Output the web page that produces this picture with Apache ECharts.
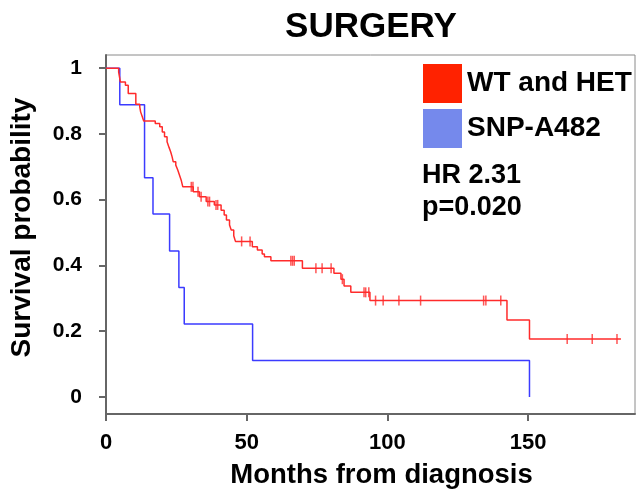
<!DOCTYPE html>
<html>
<head>
<meta charset="utf-8">
<script src="https://cdn.jsdelivr.net/npm/echarts@6/dist/echarts.min.js"></script>
<style>
html,body{margin:0;padding:0;background:#fff;}
#chart{width:637px;height:497px;}
</style>
</head>
<body>
<div id="chart"></div>
<script>
// ---- data ----
const chartTitle = 'SURGERY';
const seriesNames = ['WT and HET', 'SNP-A482'];
const xTicks = [0, 50, 100, 150];
const yTicks = [0, 0.2, 0.4, 0.6, 0.8, 1];

// WT and HET: event times (months) and survival after each event
const redTimes = [0, 4.5, 5.1, 6.9, 7.9, 10.6, 12.0, 12.3, 12.9, 13.4, 17.5, 19.1, 20.0, 20.8, 21.7, 22.4,
  23.0, 23.5, 23.9, 24.8, 25.5, 26.1, 26.7, 27.3, 31.0, 33.2, 35.6, 38.5, 40.9, 42.0, 42.8, 43.9, 44.5,
  45.4, 46.0, 52.0, 53.8, 55.5, 56.3, 58.6, 69.8, 81.0, 83.5, 84.6, 87.0, 93.8, 142.5, 150.5, 183.0];
const redSurv = [1, 0.988, 0.958, 0.948, 0.923, 0.890, 0.882, 0.867, 0.852, 0.839, 0.832, 0.822, 0.806, 0.791, 0.776, 0.759,
  0.745, 0.730, 0.715, 0.705, 0.690, 0.675, 0.660, 0.639, 0.624, 0.609, 0.594, 0.584, 0.568, 0.553, 0.538, 0.523, 0.508,
  0.490, 0.473, 0.457, 0.447, 0.435, 0.426, 0.414, 0.391, 0.376, 0.358, 0.337, 0.318, 0.293, 0.234, 0.176, 0.176];
// censored times for WT and HET
const redCensor = [30.3, 30.9, 32.7, 33.8, 36.2, 36.8, 39.1, 39.7, 48.2, 51.2, 65.7, 66.3, 66.9, 74.6, 76.8, 80.0,
  84.0, 91.7, 92.3, 93.4, 95.8, 98.5, 104.1, 111.8, 134.2, 135.0, 140.3, 163.9, 172.8, 181.6];

// SNP-A482
const blueTimes = [0, 4.9, 13.7, 16.7, 22.6, 25.9, 27.8, 52.1, 150.5];
const blueSurv = [1, 0.889, 0.667, 0.556, 0.444, 0.333, 0.222, 0.111, 0];

const hrText = 'HR 2.31';
const pText = 'p=0.020';
// --------------------------------------

const FONT = '"Liberation Sans", Arial, sans-serif';
const redLine = '#ff2b2b';
const blueLine = '#3b3bff';
const redLegend = '#ff2200';
const blueLegend = '#7589ec';

function survAt(times, surv, t) {
  let s = surv[0];
  for (let i = 0; i < times.length; i++) { if (times[i] <= t) s = surv[i]; }
  return s;
}

const redData = redTimes.map((t, i) => [t, redSurv[i]]);
const blueData = blueTimes.map((t, i) => [t, blueSurv[i]]);
const censorData = redCensor.map(t => [t, survAt(redTimes, redSurv, t)]);

const chart = echarts.init(document.getElementById('chart'), null, {renderer: 'canvas'});
chart.setOption({
  animation: false,
  backgroundColor: '#fff',
  title: {
    text: chartTitle, left: 366, textAlign: 'center', top: 5,
    textStyle: {fontFamily: FONT, fontWeight: 'bold', fontSize: 35, color: '#000'}
  },
  grid: {left: 104.5, right: 2, top: 55, bottom: 83, show: true, borderColor: '#8a8a8a', borderWidth: 1},
  xAxis: {
    type: 'value', min: 0, max: 188,
    name: 'Months from diagnosis', nameLocation: 'middle', nameGap: 47,
    nameTextStyle: {fontFamily: FONT, fontWeight: 'bold', fontSize: 27.5, color: '#000', padding: [0, 0, 0, 22]},
    axisLine: {show: true, onZero: false, lineStyle: {color: '#666', width: 2}},
    axisTick: {show: true, length: 7, customValues: xTicks, lineStyle: {color: '#666', width: 2}},
    axisLabel: {customValues: xTicks, margin: 18, fontFamily: FONT, fontWeight: 'bold', fontSize: 22, color: '#000'},
    splitLine: {show: false}
  },
  yAxis: {
    type: 'value', min: -0.052, max: 1.04,
    name: 'Survival probability', nameLocation: 'middle', nameGap: 70, nameRotate: 90,
    nameTextStyle: {fontFamily: FONT, fontWeight: 'bold', fontSize: 28, color: '#000', padding: [0, 0, 0, 14]},
    axisLine: {show: true, onZero: false, lineStyle: {color: '#666', width: 2}},
    axisTick: {show: true, length: 7, customValues: yTicks, lineStyle: {color: '#666', width: 2}},
    axisLabel: {customValues: yTicks, margin: 24, fontFamily: FONT, fontWeight: 'bold', fontSize: 21, color: '#000',
      formatter: v => String(Math.round(v * 10) / 10)},
    splitLine: {show: false}
  },
  legend: {
    orient: 'vertical', left: 423, top: 64, itemGap: 6, padding: 0,
    itemWidth: 39, itemHeight: 39, icon: 'rect',
    textStyle: {fontFamily: FONT, fontWeight: 'bold', fontSize: 28, color: '#000'},
    data: [
      {name: seriesNames[0], itemStyle: {color: redLegend}},
      {name: seriesNames[1], itemStyle: {color: blueLegend}}
    ]
  },
  graphic: [
    {type: 'text', left: 422, top: 162, style: {text: hrText, fontFamily: FONT, fontWeight: 'bold', fontSize: 27, fill: '#000'}},
    {type: 'text', left: 422, top: 194, style: {text: pText, fontFamily: FONT, fontWeight: 'bold', fontSize: 27, fill: '#000'}}
  ],
  series: [
    {name: seriesNames[0], type: 'line', step: 'end', data: redData, showSymbol: false, symbol: 'none',
      lineStyle: {color: redLine, width: 1.5}, itemStyle: {color: redLegend}, z: 3},
    {name: seriesNames[1], type: 'line', step: 'end', data: blueData, showSymbol: false, symbol: 'none',
      lineStyle: {color: blueLine, width: 1.5}, itemStyle: {color: blueLegend}, z: 2},
    {name: 'censor', type: 'scatter', data: censorData, symbol: 'rect', symbolSize: [1.5, 10],
      itemStyle: {color: redLine}, z: 4}
  ]
});
</script>
</body>
</html>
